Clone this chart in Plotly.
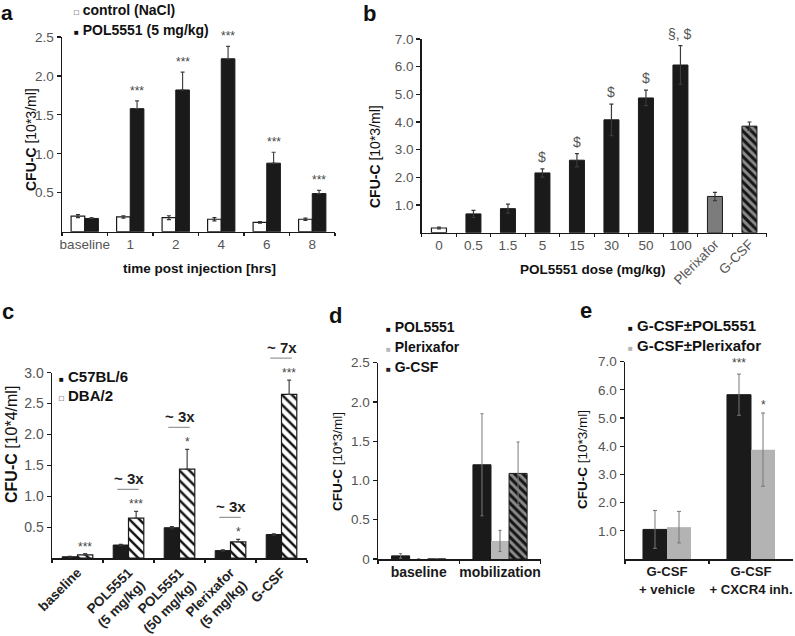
import plotly.graph_objects as go

W, H = 795, 636
FONT = "Liberation Sans, Arial, sans-serif"
TICKC = "#555555"
BLACK = "#1a1a1a"

# ---------------- data ----------------
# Panel a
a_cats = ["baseline", "1", "2", "4", "6", "8"]
a_ctrl = [0.20, 0.19, 0.18, 0.16, 0.12, 0.16]
a_ctrl_err = [0.02, 0.015, 0.025, 0.02, 0.01, 0.015]
a_pol = [0.17, 1.58, 1.82, 2.22, 0.88, 0.49]
a_pol_err = [0.01, 0.10, 0.23, 0.16, 0.14, 0.04]
a_sig = ["", "***", "***", "***", "***", "***"]
a_yticks = [0.5, 1.0, 1.5, 2.0, 2.5]

# Panel b
b_cats = ["0", "0.5", "1.5", "5", "15", "30", "50", "100", "Plerixafor", "G-CSF"]
b_vals = [0.17, 0.68, 0.87, 2.16, 2.62, 4.08, 4.87, 6.06, 1.31, 3.85]
b_err = [0.03, 0.13, 0.16, 0.15, 0.24, 0.57, 0.28, 0.70, 0.15, 0.15]
b_sig = ["", "", "", "$", "$", "$", "$", "§, $", "", ""]
b_yticks = [1, 2, 3, 4, 5, 6, 7]

# Panel c
c_cats = ["baseline", "POL5551<br>(5 mg/kg)", "POL5551<br>(50 mg/kg)",
          "Plerixafor<br>(5 mg/kg)", "G-CSF"]
c_c57 = [0.02, 0.21, 0.49, 0.12, 0.38]
c_c57_err = [0.005, 0.01, 0.02, 0.01, 0.01]
c_dba = [0.05, 0.645, 1.44, 0.26, 2.65]
c_dba_err = [0.02, 0.11, 0.32, 0.04, 0.23]
c_sig = ["***", "***", "*", "*", "***"]
c_fold = ["", "~ 3x", "~ 3x", "~ 3x", "~ 7x"]
c_yticks = [0.5, 1.0, 1.5, 2.0, 2.5, 3.0]

# Panel d
d_cats = ["baseline", "mobilization"]
d_pol = [0.04, 1.20]
d_pol_err = [0.03, 0.65]
d_plx = [0.0, 0.23]
d_plx_err = [0.0, 0.135]
d_gcsf = [0.0, 1.09]
d_gcsf_err = [0.0, 0.40]
d_yticks = [0, 0.5, 1.0, 1.5, 2.0, 2.5]
d_ylabels = ["0", "0.5", "1.0", "1.5", "2.0", "2.5"]

# Panel e
e_cats = ["G-CSF<br>+ vehicle", "G-CSF<br>+ CXCR4 inh."]
e_pol = [1.05, 5.83]
e_pol_err = [0.67, 0.73]
e_plx = [1.13, 3.88]
e_plx_err = [0.56, 1.30]
e_sig_pol = ["", "***"]
e_sig_plx = ["", "*"]
e_yticks = [1, 2, 3, 4, 5, 6, 7]


# ---------------- helpers ----------------
def px(x):
    return x / W


def py(y):
    return 1 - y / H


fig = go.Figure()
ann = []


def errd(arr, color, thick=1.2, width=2, up_only=False):
    d = dict(type="data", array=arr, color=color, thickness=thick, width=width, visible=True)
    if up_only:
        d["symmetric"] = False
        d["arrayminus"] = [0] * len(arr)
    return d


# ---------- panel a ----------
wa = 0.30
fig.add_bar(x=a_cats, y=a_ctrl, name="control (NaCl)", xaxis="x", yaxis="y",
            offset=-wa, width=wa, marker=dict(color="white", line=dict(color=BLACK, width=1.2)),
            error_y=errd(a_ctrl_err, "#333333"))
fig.add_bar(x=a_cats, y=a_pol, name="POL5551 (5 mg/kg)", xaxis="x", yaxis="y",
            offset=0, width=wa, marker=dict(color=BLACK, line=dict(color=BLACK, width=1)),
            error_y=errd(a_pol_err, "#444444", up_only=True))
for i, s in enumerate(a_sig):
    if s:
        ann.append(dict(x=i + wa / 2, y=a_pol[i] + a_pol_err[i], xref="x", yref="y", text=s,
                        showarrow=False, yanchor="bottom", yshift=1,
                        font=dict(size=12, color="#444444")))

# ---------- panel b ----------
wb = 0.435
b_style = [
    ("ctrl", slice(0, 1), "x2", dict(color="white", line=dict(color=BLACK, width=1.2))),
    ("dose", slice(1, 8), "x2", dict(color=BLACK, line=dict(color=BLACK, width=1))),
    ("Plerixafor", slice(8, 9), "x6", dict(color="#7c7c7c", line=dict(color=BLACK, width=1))),
    ("G-CSF", slice(9, 10), "x6", dict(color="#8a8a8a", line=dict(color=BLACK, width=1),
                                       pattern=dict(shape="\\", fgcolor="#151515",
                                                    bgcolor="#8a8a8a", size=6, solidity=0.5))),
]
for nm, sl, xa, mk in b_style:
    fig.add_bar(x=b_cats[sl], y=b_vals[sl], name=nm, xaxis=xa, yaxis="y2",
                offset=-wb / 2, width=wb, marker=mk,
                error_y=errd(b_err[sl], "#3a3a3a"))
for i, s in enumerate(b_sig):
    if s:
        ann.append(dict(x=i, y=b_vals[i] + b_err[i], xref="x2", yref="y2", text=s,
                        showarrow=False, yanchor="bottom", yshift=2,
                        font=dict(size=14, color="#555555")))

# ---------- panel c ----------
wc = 0.30
fig.add_bar(x=c_cats, y=c_c57, name="C57BL/6", xaxis="x3", yaxis="y3",
            offset=-wc, width=wc, marker=dict(color=BLACK, line=dict(color=BLACK, width=1)),
            error_y=errd(c_c57_err, "#333333"))
fig.add_bar(x=c_cats, y=c_dba, name="DBA/2", xaxis="x3", yaxis="y3",
            offset=0, width=wc,
            marker=dict(color="white", line=dict(color=BLACK, width=1.2),
                        pattern=dict(shape="\\", fgcolor="#111111", bgcolor="white",
                                     size=7, solidity=0.35)),
            error_y=errd(c_dba_err, "#444444", up_only=True))
for i, s in enumerate(c_sig):
    top = c_dba[i] + c_dba_err[i]
    ann.append(dict(x=i + wc / 2, y=top, xref="x3", yref="y3", text=s,
                    showarrow=False, yanchor="bottom", yshift=-2,
                    font=dict(size=12, color="#444444")))
    if c_fold[i]:
        ann.append(dict(x=i, y=top, xref="x3", yref="y3", text="<b>" + c_fold[i] + "</b>",
                        showarrow=False, yanchor="middle", yshift=33,
                        font=dict(size=15, color="#222222")))
        ann.append(dict(x=i - 0.22, y=top, xref="x3", yref="y3", text="",
                        showarrow=True, arrowhead=0, arrowwidth=1.3, arrowcolor="#9a9a9a",
                        ax=23, ay=0, axref="pixel", ayref="pixel", standoff=0,
                        startstandoff=0, yshift=22))

# ---------- panel d ----------
wd = 0.222
fig.add_bar(x=d_cats, y=d_pol, name="POL5551", xaxis="x4", yaxis="y4",
            offset=-1.5 * wd, width=wd, marker=dict(color=BLACK, line=dict(color=BLACK, width=1)),
            error_y=errd(d_pol_err, "#7a7a7a", thick=1, width=1.5))
fig.add_bar(x=d_cats, y=d_plx, name="Plerixafor", xaxis="x4", yaxis="y4",
            offset=-0.5 * wd, width=wd, marker=dict(color="#b8b8b8", line=dict(color="#b8b8b8", width=0)),
            error_y=errd(d_plx_err, "#6a6a6a", thick=1, width=1.5))
fig.add_bar(x=d_cats, y=d_gcsf, name="G-CSF", xaxis="x4", yaxis="y4",
            offset=0.5 * wd, width=wd,
            marker=dict(color="#8a8a8a", line=dict(color=BLACK, width=1),
                        pattern=dict(shape="\\", fgcolor="#151515", bgcolor="#8a8a8a",
                                     size=6, solidity=0.5)),
            error_y=errd(d_gcsf_err, "#7a7a7a", thick=1, width=1.5))

# ---------- panel e ----------
we = 0.286
fig.add_bar(x=e_cats, y=e_pol, name="G-CSF±POL5551", xaxis="x5", yaxis="y5",
            offset=-we, width=we, marker=dict(color=BLACK, line=dict(color=BLACK, width=1)),
            error_y=errd(e_pol_err, "#777777", thick=1, width=2))
fig.add_bar(x=e_cats, y=e_plx, name="G-CSF±Plerixafor", xaxis="x5", yaxis="y5",
            offset=0, width=we, marker=dict(color="#b3b3b3", line=dict(color="#b3b3b3", width=0)),
            error_y=errd(e_plx_err, "#777777", thick=1, width=2))
for i in range(len(e_cats)):
    if e_sig_pol[i]:
        ann.append(dict(x=i - we / 2, y=e_pol[i] + e_pol_err[i], xref="x5", yref="y5",
                        text=e_sig_pol[i], showarrow=False, yanchor="bottom", yshift=2,
                        font=dict(size=12, color="#444444")))
    if e_sig_plx[i]:
        ann.append(dict(x=i + we / 2, y=e_plx[i] + e_plx_err[i], xref="x5", yref="y5",
                        text=e_sig_plx[i], showarrow=False, yanchor="bottom", yshift=-1,
                        font=dict(size=12, color="#444444")))

# ---------------- axes ----------------
def xax(l, r, anchor, cats, tickfont, **kw):
    d = dict(domain=[px(l), px(r)], anchor=anchor, type="category", categoryorder="array",
             categoryarray=cats, range=[-0.5, len(cats) - 0.5], showline=True,
             linecolor=BLACK, linewidth=1.5, ticks="outside", ticklen=3, tickwidth=1.2,
             tickcolor=BLACK, tickson="boundaries", showgrid=False, zeroline=False,
             tickfont=tickfont, tickangle=0, fixedrange=True)
    d.update(kw)
    return d


def yax(b, t, anchor, rng, tickvals, ticktext, tickfont, **kw):
    d = dict(domain=[py(b), py(t)], anchor=anchor, range=rng, showline=True,
             linecolor=BLACK, linewidth=1.5, ticks="outside", ticklen=4, tickwidth=1.2,
             tickcolor=BLACK, tickmode="array", tickvals=tickvals, ticktext=ticktext,
             showgrid=False, zeroline=False, tickfont=tickfont, fixedrange=True)
    d.update(kw)
    return d


gray_tf = dict(family=FONT, size=13.5, color=TICKC)
bold_tf = dict(family=FONT, size=14, color="#1a1a1a", weight="bold")

fig.update_layout(
    xaxis=xax(62, 335, "y", a_cats, gray_tf),
    yaxis=yax(231.7, 37, "x", [0, 2.5], a_yticks, [f"{v:.1f}" for v in a_yticks], gray_tf),
    xaxis2=xax(421.7, 766.7, "y2", b_cats, gray_tf,
               tickmode="array", tickvals=b_cats, ticktext=b_cats[:8] + ["", ""]),
    yaxis2=yax(232.7, 39, "x2", [0, 7], b_yticks, [f"{v:.1f}" for v in b_yticks], gray_tf),
    xaxis6=dict(overlaying="x2", anchor="y2", type="category", categoryorder="array",
                categoryarray=b_cats, range=[-0.5, len(b_cats) - 0.5],
                tickmode="array", tickvals=b_cats[8:], ticktext=b_cats[8:], tickangle=-45,
                showline=False, ticks="", showgrid=False, zeroline=False,
                tickfont=gray_tf, side="bottom", fixedrange=True),
    xaxis3=xax(52, 307, "y3", c_cats, dict(family=FONT, size=13.5, color="#222222", weight="bold"),
               tickangle=-45),
    yaxis3=yax(558, 372.7, "x3", [0, 3], c_yticks, [f"{v:.1f}" for v in c_yticks],
               dict(family=FONT, size=14, color=TICKC)),
    xaxis4=xax(378, 540.7, "y4", d_cats, bold_tf),
    yaxis4=yax(559, 362.7, "x4", [0, 2.5], d_yticks, d_ylabels, gray_tf),
    xaxis5=xax(625, 793, "y5", e_cats, dict(family=FONT, size=13.2, color="#1a1a1a", weight="bold")),
    yaxis5=yax(559, 361.7, "x5", [0, 7], e_yticks, [f"{v:.1f}" for v in e_yticks], gray_tf),
)

# ---------------- texts: panel letters, axis titles, legends ----------------
ann.append(dict(x=px(0), y=py(0), xref="paper", yref="paper", text="<b>a</b>",
                showarrow=False, xanchor="left", yanchor="top", borderpad=0,
                font=dict(family=FONT, size=21, color="#111111")))
for letter, x0, yb in [("b", 361, 28), ("c", 0, 326), ("d", 327, 330), ("e", 578, 325)]:
    ann.append(dict(x=px(x0), y=py(yb), xref="paper", yref="paper", text="<b>" + letter + "</b>",
                    showarrow=False, xanchor="left", yanchor="bottom",
                    font=dict(family=FONT, size=22, color="#111111")))

ytitle = "<b>CFU-C</b> [10*3/ml]"
for txt, x0, y0, sz in [(ytitle, 31, 140, 14), (ytitle, 375, 157, 14),
                        ("<b>CFU-C</b> [10*4/ml]", 11, 445, 16),
                        (ytitle, 338, 462, 13.5), (ytitle, 583, 460, 13.5)]:
    ann.append(dict(x=px(x0), y=py(y0), xref="paper", yref="paper", text=txt, textangle=-90,
                    showarrow=False, xanchor="center", yanchor="middle",
                    font=dict(family=FONT, size=sz, color="#111111")))

for txt, x0, y0 in [("time post injection [hrs]", 199, 268), ("POL5551 dose (mg/kg)", 593, 269)]:
    ann.append(dict(x=px(x0), y=py(y0), xref="paper", yref="paper", text="<b>" + txt + "</b>",
                    showarrow=False, xanchor="center", yanchor="middle",
                    font=dict(family=FONT, size=13.5, color="#111111")))

legend_items = [
    # (symbol, symbol color, label, x px, y px, font size)
    ("□", "#111111", "control (NaCl)", 72, 10, 14),
    ("■", "#111111", "POL5551 (5 mg/kg)", 72, 30, 14),
    ("■", "#111111", "C57BL/6", 57, 376, 15),
    ("□", "#111111", "DBA/2", 57, 395, 15),
    ("■", "#111111", "POL5551", 384, 327, 14),
    ("■", "#b8b8b8", "Plerixafor", 384, 347, 14),
    ("■", "#222222", "G-CSF", 384, 367, 14),
    ("■", "#111111", "G-CSF±POL5551", 626, 325, 15),
    ("■", "#b3b3b3", "G-CSF±Plerixafor", 626, 345, 15),
]
for sym, sc, lab, x0, y0, sz in legend_items:
    ann.append(dict(x=px(x0), y=py(y0), xref="paper", yref="paper",
                    text=f"<span style='font-size:8px;color:{sc}'>{sym}</span> <b>{lab}</b>",
                    showarrow=False, xanchor="left", yanchor="middle",
                    font=dict(family=FONT, size=sz, color="#111111")))

fig.update_layout(
    width=W, height=H, margin=dict(l=0, r=0, t=0, b=0),
    paper_bgcolor="white", plot_bgcolor="white", template="none",
    barmode="overlay", showlegend=False, annotations=ann,
    font=dict(family=FONT, color="#111111"),
)

# remove the default 8px page margin so the figure fills the window exactly
fig.write_html("out.html",
               config={"displayModeBar": False, "staticPlot": True},
               post_script="document.body.style.margin='0';document.body.style.overflow='hidden';")
